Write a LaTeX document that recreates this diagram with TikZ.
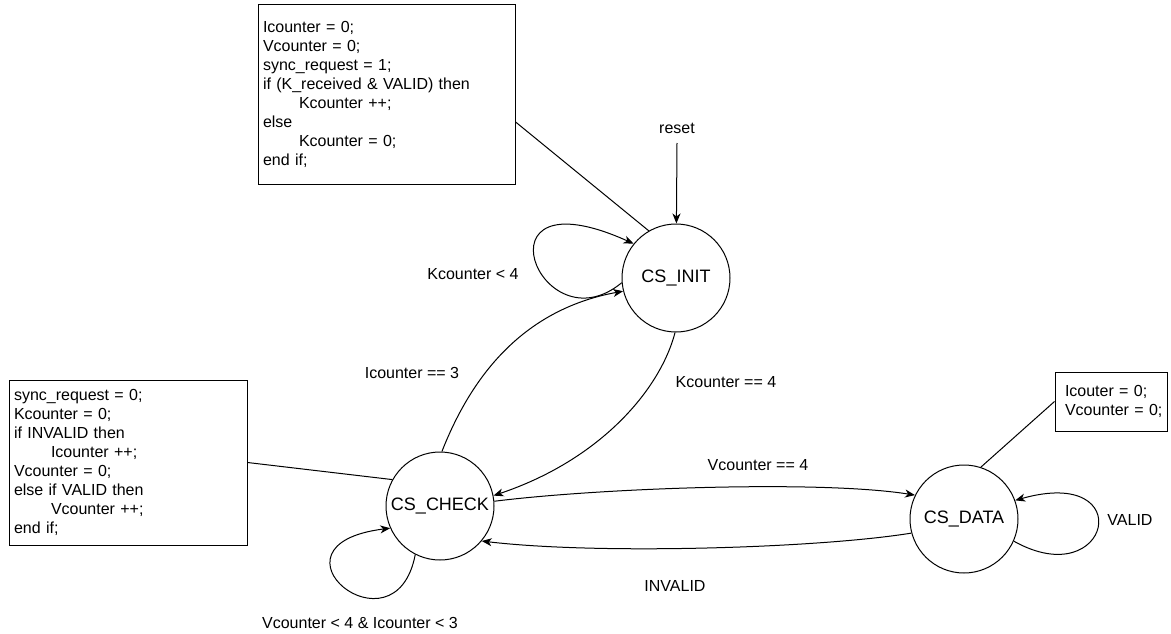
\documentclass[tikz,border=0pt]{standalone}
\usepackage{fontspec}
\setmainfont{Liberation Sans}
\usetikzlibrary{arrows.meta}
\begin{document}
\begin{tikzpicture}[x=1pt,y=-1pt,
  line width=1pt,
  txt/.style={font=\fontsize{16}{19}\selectfont, inner sep=0pt},
  state/.style={draw, circle, minimum size=108pt, inner sep=0pt,
                font=\fontsize{18}{21}\selectfont},
  action/.style={draw, rectangle, align=left, inner ysep=0pt,
                 font=\fontsize{16}{19}\selectfont},
  arr/.style={-{Stealth[length=10pt,width=8pt,inset=3pt]}},
  link/.style={-}]
\useasboundingbox (0,0) rectangle (1171,634);

% states
\node[state] (init)  at (676,278) {CS\_INIT};
\node[state] (check) at (440,506) {CS\_CHECK};
\node[state] (data)  at (964,519) {CS\_DATA};

% state actions
\node[action, text width=247pt, inner xsep=5pt, minimum height=179pt]
  (initact) at (386.5,94.5) {Icounter = 0;\\
  Vcounter = 0;\\
  sync\_request = 1;\\
  if (K\_received \& VALID) then\\
  \hspace*{36pt}Kcounter ++;\\
  else\\
  \hspace*{36pt}Kcounter = 0;\\
  end if;};
\node[action, text width=228pt, inner xsep=5pt, minimum height=165pt]
  (checkact) at (128,462.5) {sync\_request = 0;\\
  Kcounter = 0;\\
  if INVALID then\\
  \hspace*{37pt}Icounter ++;\\
  Vcounter = 0;\\
  else if VALID then\\
  \hspace*{37pt}Vcounter ++;\\
  end if;};
\node[action, text width=104pt, inner xsep=4pt, minimum height=59pt]
  (dataact) at (1111,401.5) {\hspace*{6pt}Icouter = 0;\\
  \hspace*{6pt}Vcounter = 0;};

\draw[link] (initact.-12) -- (init.120);
\draw[link] (checkact.east) -- (check.151);
\draw[link] (dataact.west) -- (data.72);

% reset
\node[txt] (reset) at (677,128) {reset};
\coordinate (rs) at (677,143);
\draw[arr] (rs) -- (init);

% transitions
\draw[arr] (init.185) .. controls (540,350) and (470,170) .. (init.141);
\node[txt] (lk4) at (473,274) {Kcounter < 4};

\draw[arr] (check.88) .. controls (470,380) and (520,310) .. (init.194);
\node[txt] (li3) at (412,373) {Icounter == 3};

\draw[arr] (init.269) .. controls (660,390) and (600,460) .. (check.11);
\node[txt] (lk4b) at (726,382) {Kcounter == 4};

\draw[arr] (check.5) .. controls (600,488) and (820,480) .. (data.154);
\node[txt] (lv4) at (758,465) {Vcounter == 4};

\draw[arr] (data.195) .. controls (820,548) and (600,555) .. (check.-40);
\node[txt] (linv) at (675,586) {INVALID};

\draw[arr] (data.-24) .. controls (1110,595) and (1140,465) .. (data.20);
\node[txt] (lval) at (1130,520) {VALID};

\draw[arr] (check.243) .. controls (395,660) and (255,545) .. (check.204);
\node[txt] (lloop) at (360,623) {Vcounter < 4 \& Icounter < 3};
\end{tikzpicture}
\end{document}
